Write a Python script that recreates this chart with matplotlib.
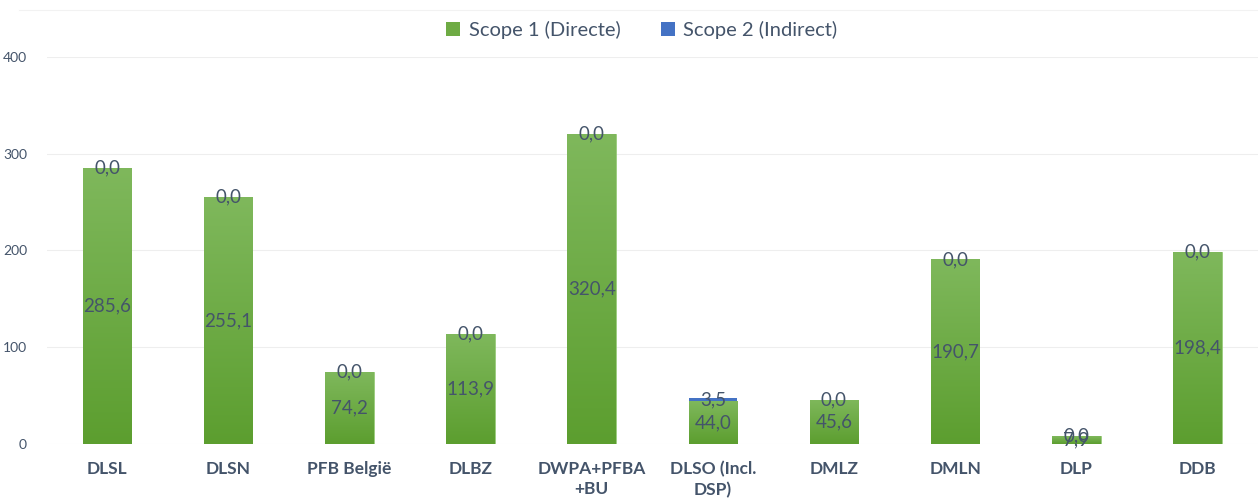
import numpy as np
import matplotlib.pyplot as plt
from matplotlib.colors import LinearSegmentedColormap

categories = ['DLSL', 'DLSN', 'PFB België', 'DLBZ', 'DWPA+PFBA\n+BU', 'DLSO (Incl.\nDSP)',
              'DMLZ', 'DMLN', 'DLP', 'DDB']
scope1 = [285.6, 255.1, 74.2, 113.9, 320.4, 44.0, 45.6, 190.7, 7.9, 198.4]
scope2 = [0.0, 0.0, 0.0, 0.0, 0.0, 3.5, 0.0, 0.0, 0.0, 0.0]

txt = '#44546a'
plt.rcParams['font.family'] = ['Lato', 'DejaVu Sans']

fig = plt.figure(figsize=(12.58, 4.99), dpi=100)
ax = fig.add_axes([0.037, 0.1102, 0.963, 0.7756])

x = np.arange(len(categories))
w = 0.4
b1 = ax.bar(x, scope1, w, color='#6eab44', label='Scope 1 (Directe)', zorder=2)
b2 = ax.bar(x, scope2, w, bottom=scope1, color='#4472c4', label='Scope 2 (Indirect)', zorder=3)

# excel style gradient fill on the green bars
cmap = LinearSegmentedColormap.from_list('g', ['#5c9e2f', '#7fb85c'])
grad = np.linspace(0, 1, 256).reshape(-1, 1)
for rect in b1:
    x0, y0 = rect.get_x(), rect.get_y()
    im = ax.imshow(grad, cmap=cmap, aspect='auto', origin='lower',
                   extent=[x0, x0 + rect.get_width(), y0, y0 + rect.get_height()], zorder=2)
    im.set_clip_path(rect)
    rect.set_facecolor('none')
    rect.set_edgecolor('#8cc46a')
    rect.set_linewidth(0.6)

for i in range(len(categories)):
    ax.text(x[i], scope1[i] / 2, f'{scope1[i]:.1f}'.replace('.', ','), ha='center', va='center',
            fontsize=13.5, color=txt, zorder=4)
    ax.text(x[i], scope1[i] + scope2[i] / 2, f'{scope2[i]:.1f}'.replace('.', ','), ha='center',
            va='center', fontsize=13.5, color=txt, zorder=4)

ax.set_xlim(-0.5, len(categories) - 0.5)
ax.set_ylim(0, 400)
ax.set_yticks([0, 100, 200, 300, 400])
ax.grid(axis='y', color='#eeeeee', linewidth=0.8, zorder=0)
ax.set_axisbelow(True)
for s in ax.spines.values():
    s.set_visible(False)
ax.tick_params(length=0)
ax.tick_params(axis='y', labelsize=10, labelcolor=txt, pad=14)
ax.set_xticks(x)
ax.set_xticklabels(categories, fontsize=12.5, fontweight='bold', color=txt, linespacing=1.35)
ax.tick_params(axis='x', pad=12)

fig.add_artist(plt.Line2D([0.015, 1.0], [0.98, 0.98], color='#f2f2f2', linewidth=0.8))

fig.legend(handles=[b1, b2], loc='center', bbox_to_anchor=(0.51, 0.94), ncol=2, frameon=False,
           fontsize=14.5, labelcolor=txt, handlelength=0.7, handleheight=0.7, columnspacing=2.0,
           handletextpad=0.4)
# legend green handle should be solid
leg = fig.legends[0]
leg.legend_handles[0].set_facecolor('#6eab44')
leg.legend_handles[0].set_edgecolor('none')

fig.savefig('out.png', dpi=100)
